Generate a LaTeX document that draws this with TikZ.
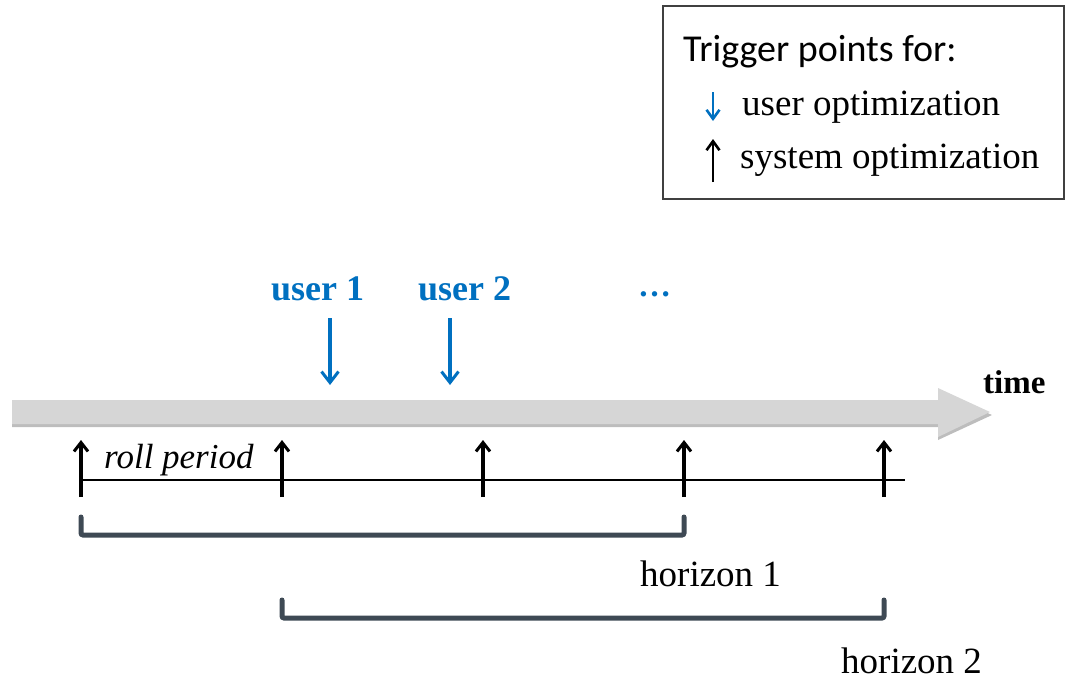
\documentclass[tikz,border=0pt]{standalone}
\usepackage{fontspec}
\setmainfont{Liberation Serif}
\newfontfamily\calib{Carlito}
\usetikzlibrary{arrows.meta}
\definecolor{ublue}{HTML}{0070C0}
\definecolor{tgray}{HTML}{D6D6D6}
\definecolor{tshadow}{HTML}{BDBDBD}
\definecolor{brk}{HTML}{3E4954}
\begin{document}
\begin{tikzpicture}[x=1pt,y=-1pt,
  txt/.style={inner sep=0pt,anchor=base west,font=\fontsize{37}{40}\selectfont},
  sysarrow/.style={line width=3.2pt,-{Straight Barb[length=9pt,width=14pt,line width=3pt]}},
  userarrow/.style={ublue,line width=3.2pt,-{Straight Barb[length=11pt,width=17pt,line width=3pt]}},
  bracketline/.style={brk,line width=5pt,rounded corners=2pt,line cap=round}]
\useasboundingbox (0,0) rectangle (1067,681);
% legend
\draw[line width=1.3pt,draw=black!75] (663,6) rectangle (1064,199);
\node[txt,font=\calib\fontsize{38}{40}\selectfont] (leg) at (683,61) {Trigger points for:};
\coordinate (lb1) at (713,92); \coordinate (lb2) at (713,121);
\draw[ublue,line width=2.8pt,-{Straight Barb[length=9pt,width=13pt,line width=2.6pt]}] (lb1) -- (lb2);
\node[txt] (legu) at (742,115) {user optimization};
\coordinate (ls1) at (713,182); \coordinate (ls2) at (713,139);
\draw[line width=2.8pt,-{Straight Barb[length=9pt,width=13pt,line width=2.6pt]}] (ls1) -- (ls2);
\node[txt] (legs) at (740,168) {system optimization};
% time arrow
\fill[tshadow] (12,403) -- (938,403) -- (938,391) -- (992,415) -- (938,440) -- (938,427) -- (12,427) -- cycle;
\fill[tgray] (12,400) -- (938,400) -- (938,388) -- (990,412) -- (938,437) -- (938,424) -- (12,424) -- cycle;
\node[txt,font=\bfseries\fontsize{33}{36}\selectfont] (time) at (983,393) {time};
% users
\node[txt,ublue,font=\bfseries\fontsize{36}{38}\selectfont] (u1) at (271,300) {user 1};
\node[txt,ublue,font=\bfseries\fontsize{36}{38}\selectfont] (u2) at (418,300) {user 2};
\node[txt,ublue,font=\bfseries\fontsize{33}{36}\selectfont] (ud) at (638,296) {\dots};
\coordinate (a1s) at (330,318); \coordinate (a1e) at (330,385);
\coordinate (a2s) at (450,318); \coordinate (a2e) at (450,385);
\draw[userarrow] (a1s) -- (a1e);
\draw[userarrow] (a2s) -- (a2e);
% timeline
\coordinate (l0) at (80,480); \coordinate (l1) at (905,480);
\draw[line width=2.4pt] (l0) -- (l1);
\foreach \x/\n in {81/s0,282/s1,483/s2,684/s3,884/s4}{
  \coordinate (\n b) at (\x,497); \coordinate (\n t) at (\x,440);
  \draw[sysarrow] (\n b) -- (\n t);
}
\node[txt,font=\itshape\fontsize{35}{37}\selectfont] (roll) at (104,468) {roll period};
% brackets
\draw[bracketline] (81,517) -- (81,535) -- (684,535) -- (684,517);
\draw[bracketline] (282,600) -- (282,618) -- (884,618) -- (884,600);
\node[txt] (h1) at (640,586) {horizon 1};
\node[txt] (h2) at (841,673) {horizon 2};
\end{tikzpicture}
\end{document}
